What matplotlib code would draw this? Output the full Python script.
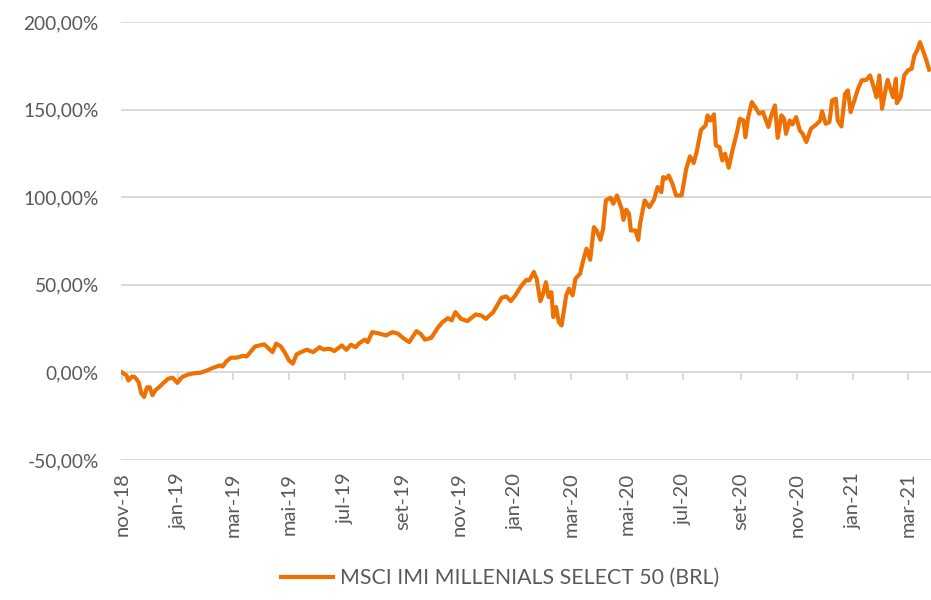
import matplotlib
matplotlib.use("Agg")
import matplotlib.pyplot as plt
from matplotlib.ticker import FuncFormatter
import pandas as pd

# cumulative return (%)
dates = [
    "2018-11-01", "2018-11-06", "2018-11-08", "2018-11-12", "2018-11-15", "2018-11-19",
    "2018-11-22", "2018-11-25", "2018-11-28", "2018-12-01", "2018-12-04", "2018-12-07",
    "2018-12-12", "2018-12-17", "2018-12-21", "2018-12-26", "2018-12-31", "2019-01-05",
    "2019-01-12", "2019-01-19", "2019-01-25", "2019-02-01", "2019-02-08", "2019-02-15",
    "2019-02-18", "2019-02-22", "2019-02-27", "2019-03-05", "2019-03-12", "2019-03-16",
    "2019-03-21", "2019-03-25", "2019-03-30", "2019-04-04", "2019-04-08", "2019-04-13",
    "2019-04-17", "2019-04-22", "2019-04-26", "2019-05-01", "2019-05-05", "2019-05-09",
    "2019-05-14", "2019-05-20", "2019-05-27", "2019-06-03", "2019-06-07", "2019-06-14",
    "2019-06-19", "2019-06-27", "2019-07-02", "2019-07-07", "2019-07-12", "2019-07-16",
    "2019-07-22", "2019-07-25", "2019-07-30", "2019-08-05", "2019-08-14", "2019-08-21",
    "2019-08-27", "2019-09-01", "2019-09-08", "2019-09-16", "2019-09-21", "2019-09-25",
    "2019-10-02", "2019-10-09", "2019-10-14", "2019-10-20", "2019-10-24", "2019-10-28",
    "2019-11-03", "2019-11-10", "2019-11-19", "2019-11-25", "2019-11-30", "2019-12-08",
    "2019-12-17", "2019-12-22", "2019-12-27", "2020-01-01", "2020-01-07", "2020-01-13",
    "2020-01-16", "2020-01-21", "2020-01-24", "2020-01-28", "2020-01-31", "2020-02-03",
    "2020-02-06", "2020-02-09", "2020-02-11", "2020-02-14", "2020-02-17", "2020-02-20",
    "2020-02-22", "2020-02-25", "2020-02-28", "2020-03-03", "2020-03-06", "2020-03-11",
    "2020-03-14", "2020-03-18", "2020-03-22", "2020-03-26", "2020-03-29", "2020-04-02",
    "2020-04-05", "2020-04-08", "2020-04-13", "2020-04-16", "2020-04-20", "2020-04-25",
    "2020-04-27", "2020-04-30", "2020-05-03", "2020-05-05", "2020-05-10", "2020-05-13",
    "2020-05-15", "2020-05-20", "2020-05-25", "2020-05-30", "2020-06-02", "2020-06-03",
    "2020-06-07", "2020-06-09", "2020-06-12", "2020-06-15", "2020-06-19", "2020-06-23",
    "2020-06-29", "2020-07-04", "2020-07-08", "2020-07-12", "2020-07-15", "2020-07-20",
    "2020-07-25", "2020-07-27", "2020-07-30", "2020-08-03", "2020-08-05", "2020-08-09",
    "2020-08-12", "2020-08-15", "2020-08-19", "2020-08-23", "2020-08-28", "2020-08-31",
    "2020-09-04", "2020-09-06", "2020-09-09", "2020-09-13", "2020-09-17", "2020-09-21",
    "2020-09-25", "2020-09-29", "2020-10-01", "2020-10-04", "2020-10-08", "2020-10-11",
    "2020-10-15", "2020-10-18", "2020-10-20", "2020-10-24", "2020-10-27", "2020-10-31",
    "2020-11-04", "2020-11-07", "2020-11-11", "2020-11-16", "2020-11-22", "2020-11-26",
    "2020-11-28", "2020-12-02", "2020-12-06", "2020-12-09", "2020-12-13", "2020-12-15",
    "2020-12-19", "2020-12-23", "2020-12-26", "2020-12-29", "2021-01-02", "2021-01-06",
    "2021-01-10", "2021-01-15", "2021-01-19", "2021-01-23", "2021-01-26", "2021-01-29",
    "2021-02-01", "2021-02-05", "2021-02-07", "2021-02-10", "2021-02-13", "2021-02-16",
    "2021-02-17", "2021-02-21", "2021-02-25", "2021-03-01", "2021-03-05", "2021-03-08",
    "2021-03-11", "2021-03-14", "2021-03-17", "2021-03-21", "2021-03-24",
]
returns = [
    0.0, -1.7, -4.6, -2.3, -2.7, -5.5,
    -12.0, -14.0, -8.6, -8.4, -13.0, -10.3,
    -8.0, -5.5, -3.6, -3.0, -6.0, -2.7,
    -1.1, -0.4, -0.2, 1.1, 2.7, 4.0,
    3.4, 6.3, 8.4, 8.4, 9.5, 9.1,
    12.2, 14.8, 15.4, 16.0, 14.1, 11.6,
    16.4, 14.8, 11.6, 6.8, 5.0, 10.3,
    11.6, 13.0, 11.6, 14.4, 13.1, 13.5,
    12.2, 15.4, 12.9, 15.8, 14.4, 16.7,
    18.7, 17.3, 23.0, 22.4, 21.1, 23.0,
    22.1, 19.8, 17.3, 23.6, 21.7, 18.7,
    19.8, 25.5, 28.7, 31.0, 29.7, 34.4,
    30.6, 29.3, 33.1, 32.5, 30.6, 34.4,
    42.6, 43.4, 40.7, 44.0, 49.1, 52.9,
    52.5, 57.3, 53.5, 40.7, 44.9, 51.5,
    43.0, 45.8, 31.6, 37.3, 28.7, 26.8,
    33.5, 44.0, 47.8, 44.0, 53.5, 56.3,
    63.0, 70.6, 64.3, 82.9, 81.0, 75.7,
    82.0, 98.2, 99.7, 96.3, 101.0, 93.4,
    87.1, 92.9, 90.6, 81.0, 81.0, 75.7,
    84.9, 98.2, 94.3, 98.5, 103.9, 105.8,
    102.9, 111.5, 110.6, 112.4, 107.7, 101.0,
    101.0, 116.3, 123.3, 119.5, 125.2, 138.5,
    141.0, 146.7, 143.8, 147.3, 129.6, 128.6,
    121.0, 124.8, 116.8, 126.7, 137.2, 144.8,
    143.8, 134.3, 145.4, 154.3, 151.1, 147.7,
    148.6, 142.9, 140.1, 146.7, 152.4, 133.9,
    146.7, 144.8, 136.2, 143.8, 141.6, 145.7,
    138.1, 136.2, 131.5, 139.1, 141.6, 143.8,
    149.1, 141.9, 142.9, 155.3, 156.2, 143.8,
    140.4, 159.1, 161.0, 148.6, 155.3, 161.9,
    166.7, 167.0, 169.5, 162.8, 157.1, 169.5,
    150.5, 161.9, 167.0, 161.9, 157.1, 167.6,
    153.7, 157.1, 169.5, 172.4, 173.3, 180.9,
    183.8, 188.5, 184.2, 178.1, 172.8,
]
series_name = "MSCI IMI MILLENIALS SELECT 50 (BRL)"
month_pt = ["jan", "fev", "mar", "abr", "mai", "jun", "jul", "ago", "set", "out", "nov", "dez"]
y_ticks = [-50, 0, 50, 100, 150, 200]

df = pd.DataFrame({"date": pd.to_datetime(dates), "ret": returns})

text_color = "#595959"
grid_color = "#d9d9d9"
line_color = "#ee7203"

plt.rcParams["font.family"] = ["Lato", "DejaVu Sans"]

fig = plt.figure(figsize=(9.31, 6.0), dpi=100)
ax = fig.add_axes([0.130, 0.2333, 0.870, 0.7300])

ax.plot(df["date"], df["ret"], color=line_color, lw=3.0, solid_joinstyle="round",
        label=series_name)

ax.set_ylim(-50, 200)
ax.set_yticks(y_ticks)
ax.yaxis.set_major_formatter(FuncFormatter(lambda v, p: f"{v:.2f}%".replace(".", ",")))
ax.grid(axis="y", color=grid_color, lw=1.4)
ax.set_axisbelow(True)

tick_dates = pd.date_range("2018-11-01", "2021-03-01", freq="2MS")
ax.set_xticks(tick_dates)
ax.set_xticklabels([f"{month_pt[d.month - 1]}-{d.strftime('%y')}" for d in tick_dates],
                   rotation=90)
ax.set_xlim(pd.Timestamp("2018-10-31"), pd.Timestamp("2021-03-26"))

for s in ax.spines.values():
    s.set_visible(False)
ax.tick_params(axis="both", length=0, colors=text_color)
ax.tick_params(axis="x", pad=9, labelsize=14.5)
ax.tick_params(axis="y", pad=16, labelsize=13.8)

# tick marks hang from the zero line
sec = ax.secondary_xaxis(0.2)
sec.set_xticks(tick_dates)
sec.set_xticklabels([])
sec.tick_params(axis="x", length=6, width=1.4, color=grid_color, direction="out")
sec.spines["bottom"].set_visible(False)

fig.legend(loc="lower center", bbox_to_anchor=(0.537, -0.012), frameon=False,
           fontsize=15.3, labelcolor=text_color, handlelength=2.45, handletextpad=0.3)

fig.savefig("out.png", dpi=100)
